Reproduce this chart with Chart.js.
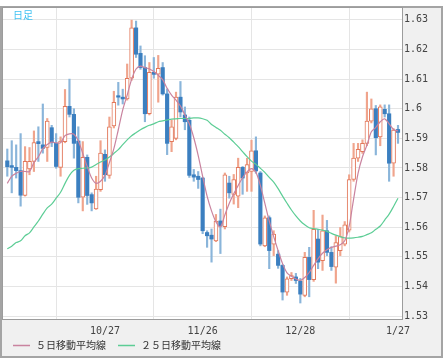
<!DOCTYPE html>
<html><head><meta charset="utf-8">
<script src="https://cdn.jsdelivr.net/npm/chart.js@4/dist/chart.umd.min.js"></script>
<style>html,body{margin:0;padding:0;background:#fff}#wrap{width:445px;height:362px}</style>
</head><body><div id="wrap"><canvas id="c" width="445" height="362"></canvas></div>
<script>
const opens  = [1.5824,1.5808,1.5802,1.5791,1.5707,1.5797,1.5822,1.5889,1.5878,1.5869,1.5936,1.5883,1.5802,1.5889,1.6008,1.5981,1.5891,1.5701,1.5836,1.5710,1.5662,1.5727,1.5846,1.5775,1.5942,1.6044,1.6039,1.6033,1.6103,1.6273,1.6187,1.6139,1.5983,1.6123,1.6117,1.6139,1.6050,1.5889,1.5900,1.6039,1.5979,1.5961,1.5777,1.5772,1.5766,1.5582,1.5573,1.5554,1.5621,1.5602,1.5749,1.5711,1.5705,1.5802,1.5783,1.5788,1.5858,1.5783,1.5537,1.5632,1.5543,1.5509,1.5471,1.5381,1.5426,1.5432,1.5418,1.5370,1.5498,1.5423,1.5560,1.5487,1.5588,1.5515,1.5465,1.5521,1.5543,1.5590,1.5761,1.5833,1.5855,1.5883,1.5958,1.6000,1.5905,1.5998,1.5983,1.5816,1.5930];
const highs  = [1.5864,1.5892,1.5878,1.5916,1.5872,1.5869,1.5925,1.5939,1.6016,1.5967,1.5944,1.5916,1.5905,1.6065,1.6100,1.6000,1.5939,1.5889,1.5844,1.5716,1.5772,1.5892,1.5861,1.5972,1.6059,1.6089,1.6066,1.6151,1.6299,1.6296,1.6212,1.6179,1.6156,1.6173,1.6180,1.6156,1.6067,1.5962,1.6056,1.6092,1.6006,1.5972,1.5795,1.5788,1.5768,1.5588,1.5594,1.5643,1.5661,1.5783,1.5772,1.5778,1.5833,1.5805,1.5833,1.5894,1.5905,1.5788,1.5638,1.5638,1.5588,1.5521,1.5474,1.5432,1.5447,1.5444,1.5427,1.5515,1.5532,1.5657,1.5593,1.5641,1.5623,1.5534,1.5571,1.5599,1.5619,1.5777,1.5883,1.5883,1.5895,1.6056,1.6033,1.6011,1.6013,1.6013,1.6013,1.5933,1.5944];
const lows   = [1.5772,1.5716,1.5766,1.5671,1.5705,1.5777,1.5788,1.5822,1.5850,1.5822,1.5872,1.5799,1.5772,1.5885,1.5972,1.5833,1.5682,1.5655,1.5677,1.5655,1.5660,1.5721,1.5755,1.5765,1.5935,1.6012,1.6016,1.6029,1.6096,1.6173,1.6133,1.5956,1.5979,1.6103,1.6022,1.6046,1.5845,1.5855,1.5895,1.5972,1.5929,1.5768,1.5755,1.5731,1.5578,1.5532,1.5482,1.5551,1.5511,1.5594,1.5698,1.5678,1.5666,1.5711,1.5721,1.5721,1.5782,1.5537,1.5534,1.5460,1.5504,1.5461,1.5354,1.5370,1.5420,1.5410,1.5344,1.5365,1.5365,1.5417,1.5460,1.5454,1.5504,1.5454,1.5411,1.5504,1.5537,1.5584,1.5755,1.5822,1.5849,1.5875,1.5952,1.5844,1.5875,1.5972,1.5755,1.5772,1.5883];
const closes = [1.5804,1.5802,1.5791,1.5708,1.5822,1.5822,1.5886,1.5882,1.5866,1.5958,1.5885,1.5805,1.5891,1.6008,1.5981,1.5883,1.5701,1.5836,1.5707,1.5682,1.5729,1.5850,1.5777,1.5939,1.6022,1.6039,1.6033,1.6103,1.6273,1.6184,1.6139,1.5983,1.6123,1.6116,1.6136,1.6050,1.5883,1.5939,1.6039,1.5989,1.5956,1.5775,1.5769,1.5761,1.5588,1.5571,1.5560,1.5621,1.5604,1.5777,1.5716,1.5761,1.5802,1.5766,1.5811,1.5858,1.5790,1.5543,1.5632,1.5521,1.5577,1.5471,1.5381,1.5426,1.5437,1.5420,1.5374,1.5498,1.5423,1.5593,1.5482,1.5588,1.5515,1.5467,1.5548,1.5568,1.5608,1.5761,1.5833,1.5863,1.5883,1.5958,1.6000,1.5902,1.6006,1.5983,1.5816,1.5928,1.5920];
const ma5    = [1.5748,1.5772,1.5782,1.5788,1.5788,1.5788,1.5818,1.5838,1.5865,1.5879,1.5887,1.5885,1.5885,1.5909,1.5915,1.5914,1.5892,1.5849,1.5805,1.5766,1.5748,1.5755,1.5775,1.5818,1.5865,1.5929,1.5996,1.6046,1.6099,1.6134,1.6144,1.6139,1.6134,1.6126,1.6113,1.6098,1.6069,1.6046,1.6029,1.6009,1.5979,1.5949,1.5902,1.5842,1.5772,1.5705,1.5655,1.5618,1.5601,1.5641,1.5681,1.5713,1.5741,1.5767,1.5787,1.5798,1.5785,1.5741,1.5681,1.5621,1.5568,1.5521,1.5477,1.5446,1.5434,1.5425,1.5420,1.5430,1.5447,1.5471,1.5494,1.5512,1.5524,1.5532,1.5536,1.5541,1.5554,1.5604,1.5695,1.5782,1.5838,1.5877,1.5922,1.5937,1.5956,1.5966,1.5949,1.5930,1.5925];
const ma25   = [1.5527,1.5536,1.5548,1.5554,1.5571,1.5581,1.5601,1.5621,1.5644,1.5665,1.5678,1.5698,1.5718,1.5748,1.5775,1.5792,1.5798,1.5799,1.5800,1.5803,1.5812,1.5820,1.5827,1.5837,1.5849,1.5862,1.5879,1.5895,1.5909,1.5919,1.5929,1.5937,1.5944,1.5949,1.5956,1.5959,1.5962,1.5965,1.5966,1.5967,1.5967,1.5967,1.5969,1.5969,1.5966,1.5961,1.5947,1.5937,1.5927,1.5914,1.5902,1.5887,1.5872,1.5855,1.5838,1.5823,1.5812,1.5799,1.5785,1.5768,1.5752,1.5730,1.5705,1.5681,1.5658,1.5638,1.5621,1.5608,1.5598,1.5595,1.5593,1.5590,1.5586,1.5579,1.5573,1.5568,1.5564,1.5563,1.5564,1.5566,1.5569,1.5575,1.5581,1.5593,1.5604,1.5624,1.5644,1.5670,1.5698];
const tickIndex  = [0, 22, 44, 66, 88];
const tickLabels = ['', '10/27', '11/26', '12/28', '1/27'];
const yTicks     = [1.53,1.54,1.55,1.56,1.57,1.58,1.59,1.60,1.61,1.62,1.63];
const seriesNames = ['５日移動平均線', '２５日移動平均線'];
const periodLabel = '日足';

const C_UP = '#e2775a', C_DOWN = '#3b7fc0';
const C_UPW = '#f0a48c', C_DOWNW = '#8ab5da';
const C_MA5 = '#c9839f', C_MA25 = '#5ccd95';

const idx = opens.map((_, i) => i);
const isUp = idx.map(i => closes[i] >= opens[i]);

const decor = {
  id: 'decor',
  beforeDraw(chart) {
    const {ctx, chartArea: a, width, height} = chart;
    ctx.save();
    ctx.fillStyle = '#f0f0f0';
    ctx.fillRect(1, a.top - 1, width - 4, height - a.top - 4);
    ctx.strokeStyle = '#a4a4a4';
    ctx.lineWidth = 2;
    ctx.strokeRect(1, a.top - 1, width - 4, height - a.top - 4);
    ctx.fillStyle = '#ffffff';
    ctx.fillRect(a.left, a.top, a.width, a.height);
    ctx.restore();
  },
  afterDraw(chart) {
    const {ctx, chartArea: a, height} = chart;
    ctx.save();
    ctx.strokeStyle = '#9c9c9c';
    ctx.lineWidth = 1;
    ctx.strokeRect(a.left - 0.5, a.top - 0.5, a.width + 1, a.height + 1);
    ctx.font = '10px "Noto Sans CJK JP"';
    ctx.textBaseline = 'middle';
    ctx.fillStyle = '#3ec2f2';
    ctx.fillText(periodLabel, a.left + 10, a.top + 7);
    const cols = [C_MA5, C_MA25];
    let x = a.left + 10;
    const y = height - 16.5;
    seriesNames.forEach((t, k) => {
      ctx.strokeStyle = cols[k];
      ctx.lineWidth = 1.5;
      ctx.beginPath(); ctx.moveTo(x, y); ctx.lineTo(x + 17, y); ctx.stroke();
      ctx.fillStyle = '#333';
      ctx.fillText(t, x + 23, y);
      x += 23 + ctx.measureText(t).width + 12;
    });
    ctx.restore();
  }
};

new Chart(document.getElementById('c'), {
  data: {
    datasets: [
      { type: 'line', label: seriesNames[0], data: idx.map(i => ({x: i, y: ma5[i]})),
        borderColor: C_MA5, borderWidth: 1.2, pointRadius: 0, tension: 0.3, order: 0 },
      { type: 'line', label: seriesNames[1], data: idx.map(i => ({x: i, y: ma25[i]})),
        borderColor: C_MA25, borderWidth: 1.2, pointRadius: 0, tension: 0.3, order: 0 },
      { type: 'bar', label: 'up', grouped: false, order: 1,
        data: idx.filter(i => isUp[i]).map(i => ({x: i, y: [opens[i], closes[i]]})),
        backgroundColor: '#ffffff', borderColor: C_UP, borderWidth: 1, borderSkipped: false, barThickness: 4 },
      { type: 'bar', label: 'down', grouped: false, order: 1,
        data: idx.filter(i => !isUp[i]).map(i => ({x: i, y: [opens[i], closes[i]]})),
        backgroundColor: C_DOWN, borderWidth: 0, barThickness: 3.5 },
      { type: 'bar', label: 'wick', grouped: false, order: 2,
        data: idx.map(i => ({x: i, y: [lows[i], highs[i]]})),
        backgroundColor: idx.map(i => isUp[i] ? C_UPW : C_DOWNW), borderWidth: 0, barThickness: 1.5 }
    ]
  },
  options: {
    responsive: false, animation: false, devicePixelRatio: 1,
    layout: {padding: {left: 3, top: 5, right: 5, bottom: 5}},
    plugins: {legend: {display: false}, tooltip: {enabled: false}},
    scales: {
      x: {
        type: 'linear', min: -0.968, max: 88.9, offset: false,
        afterBuildTicks: s => { s.ticks = tickIndex.map(v => ({value: v})); },
        afterFit: s => { s.height = 38; },
        ticks: {autoSkip: false, maxRotation: 0, padding: 6, color: '#444',
                font: {family: 'DejaVu Sans Mono', size: 10},
                callback: v => { const k = tickIndex.indexOf(v); return k >= 0 ? tickLabels[k] : ''; }},
        grid: {color: '#e5e5e5', drawTicks: false},
        border: {display: false}
      },
      y: {
        type: 'linear', position: 'right', min: 1.529, max: 1.63401,
        afterBuildTicks: s => { s.ticks = yTicks.map(v => ({value: v})); },
        afterFit: s => { s.width = 38; },
        ticks: {padding: 2, color: '#444', font: {family: 'DejaVu Sans Mono', size: 10},
                callback: v => String(parseFloat(Number(v).toFixed(2)))},
        grid: {color: '#e5e5e5', drawTicks: false},
        border: {display: false}
      }
    }
  },
  plugins: [decor]
});
</script></body></html>
